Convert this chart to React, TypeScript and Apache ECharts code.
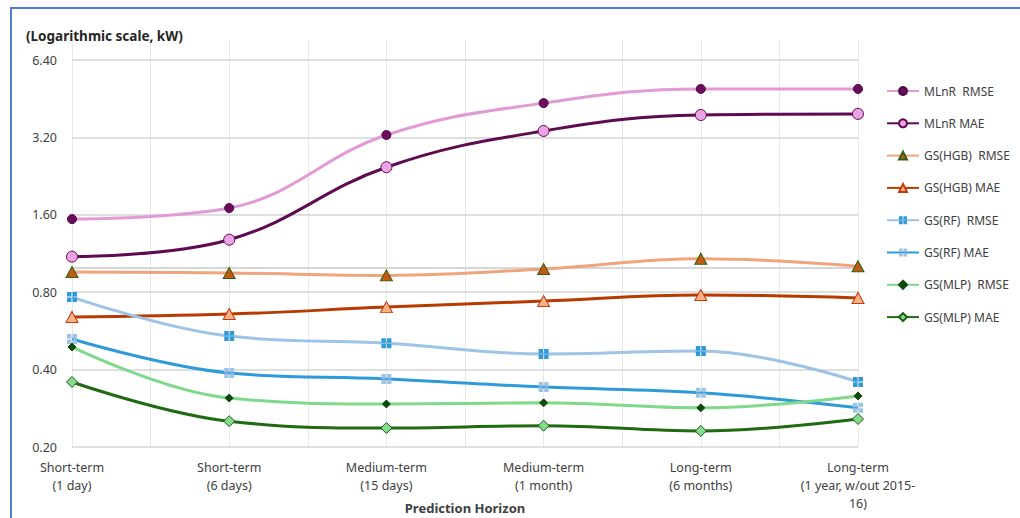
import React, { useEffect, useRef } from 'react';
import * as echarts from 'echarts';

const categories = [
  'Short-term\n(1 day)',
  'Short-term\n(6 days)',
  'Medium-term\n(15 days)',
  'Medium-term\n(1 month)',
  'Long-term\n(6 months)',
  'Long-term\n(1 year, w/out 2015-\n16)',
];

const mlnrRmse = [1.54, 1.70, 3.27, 4.35, 4.94, 4.94];
const mlnrMae = [1.10, 1.28, 2.45, 3.39, 3.91, 3.95];
const hgbRmse = [0.958, 0.95, 0.93, 0.985, 1.08, 1.01];
const hgbMae = [0.641, 0.658, 0.70, 0.739, 0.78, 0.76];
const rfRmse = [0.766, 0.54, 0.507, 0.46, 0.472, 0.358];
const rfMae = [0.526, 0.388, 0.368, 0.342, 0.325, 0.284];
const mlpRmse = [0.49, 0.31, 0.294, 0.297, 0.284, 0.316];
const mlpMae = [0.358, 0.252, 0.237, 0.242, 0.231, 0.257];

const yTickValues = [0.2, 0.4, 0.8, 1.6, 3.2, 6.4];
const axisCrossValue = 1.0;

const BASE = yTickValues[0];
const toLog = (v: number) => Math.log2(v / BASE);

const FONT = '"Noto Sans", sans-serif';
const squareCross =
  'path://M0,0H9V9H0Z M11,0H20V9H11Z M0,11H9V20H0Z M11,11H20V20H11Z';

function mk(
  name: string,
  data: number[],
  lineColor: string,
  symbol: string,
  size: number | number[],
  fill: string,
  border: string,
  borderWidth = 1
) {
  return {
    name,
    type: 'line',
    data: data.map(toLog),
    smooth: 0.4,
    symbol,
    symbolSize: size,
    showSymbol: true,
    lineStyle: { color: lineColor, width: 3 },
    itemStyle: { color: fill, borderColor: border, borderWidth },
    emphasis: { disabled: true },
  };
}

export default function App() {
  const ref = useRef<HTMLDivElement>(null);
  useEffect(() => {
    if (!ref.current) return;
    const chart = echarts.init(ref.current, undefined, { renderer: 'svg' });
    const series: any[] = [
      mk('MLnR  RMSE', mlnrRmse, '#E29AD6', 'circle', 9, '#6A0D5C', '#4E0843'),
      mk('MLnR MAE', mlnrMae, '#5E0A50', 'circle', 11, '#EBA3E3', '#5E0A50'),
      mk('GS(HGB)  RMSE', hgbRmse, '#F0A47C', 'triangle', [12, 11], '#C55A11', '#2F5F17'),
      mk('GS(HGB) MAE', hgbMae, '#B83A00', 'triangle', [12, 11], '#F6B186', '#C43B0B'),
      mk('GS(RF)  RMSE', rfRmse, '#9DC3E6', squareCross, 10, '#2E9AD8', '#2E9AD8', 0),
      mk('GS(RF) MAE', rfMae, '#2E9AD8', squareCross, 10, '#9DC3E6', '#9DC3E6', 0),
      mk('GS(MLP)  RMSE', mlpRmse, '#7FD98A', 'diamond', 8, '#0E4A0E', '#0E4A0E'),
      mk('GS(MLP) MAE', mlpMae, '#1F6A12', 'diamond', 11, '#84DA8E', '#1F5A12'),
    ];
    series[0].markLine = {
      silent: true,
      symbol: ['none', 'none'],
      label: { show: false },
      lineStyle: { color: '#c8c8c8', width: 1.5, type: 'solid' },
      data: [{ yAxis: toLog(axisCrossValue) }],
      z: 1,
    };
    chart.setOption({
      animation: false,
      textStyle: { fontFamily: FONT },
      title: {
        text: '(Logarithmic scale, kW)',
        left: 26,
        top: 29,
        padding: 0,
        textStyle: { fontFamily: FONT, fontSize: 13.5, fontWeight: 'bold', color: '#262626' },
      },
      legend: {
        orient: 'vertical',
        left: 886,
        top: 85,
        padding: 0,
        itemWidth: 32,
        itemHeight: 10,
        itemGap: 20.3,
        textStyle: { fontFamily: FONT, fontSize: 12, color: '#404040' },
        data: series.map((s) => s.name),
      },
      grid: [
        { left: 72, right: 162, top: 60, bottom: 71, outerBoundsMode: 'none', containLabel: false },
        { left: 72, right: 162, top: 40, bottom: 71, outerBoundsMode: 'none', containLabel: false },
      ],
      xAxis: [
        {
          type: 'category',
          gridIndex: 0,
          data: categories,
          boundaryGap: false,
          axisLine: { show: false },
          axisTick: { show: false },
          splitLine: { show: false },
          axisLabel: {
            interval: 0,
            margin: 11,
            lineHeight: 18,
            fontSize: 12.5,
            color: '#404040',
            fontFamily: FONT,
          },
          name: 'Prediction Horizon',
          nameLocation: 'middle',
          nameGap: 54,
          nameMoveOverlap: false,
          nameTextStyle: { fontFamily: FONT, fontSize: 13, fontWeight: 'bold', color: '#404040' },
        },
        {
          type: 'value',
          gridIndex: 1,
          min: 0,
          max: (categories.length - 1) * 2,
          interval: 1,
          axisLine: { show: false },
          axisTick: { show: false },
          axisLabel: { show: false },
          splitLine: { show: true, lineStyle: { color: '#e8e8e8', width: 1 } },
          z: 0,
        },
      ],
      yAxis: [
        {
          type: 'value',
          gridIndex: 0,
          min: 0,
          max: toLog(yTickValues[yTickValues.length - 1]),
          interval: 1,
          axisLine: { show: false },
          axisTick: { show: false },
          axisLabel: {
            margin: 15,
            fontSize: 12.5,
            color: '#404040',
            fontFamily: FONT,
            formatter: (t: number) => (BASE * Math.pow(2, t)).toFixed(2),
          },
          splitLine: { show: true, lineStyle: { color: '#d4d4d4', width: 1.6 } },
          z: 1,
        },
        {
          type: 'value',
          gridIndex: 1,
          show: false,
          min: 0,
          max: 1,
        },
      ],
      series,
    });
    return () => chart.dispose();
  }, []);
  return (
    <>
      <div
        ref={ref}
        style={{ position: 'absolute', left: 0, top: 0, width: 1020, height: 518, background: '#fff' }}
      />
      <div
        style={{
          position: 'absolute',
          left: 10,
          top: 7,
          width: 1010,
          height: 511,
          borderTop: '2px solid #4F7FD6',
          borderLeft: '2px solid #4F7FD6',
          boxSizing: 'border-box',
          pointerEvents: 'none',
        }}
      />
    </>
  );
}
